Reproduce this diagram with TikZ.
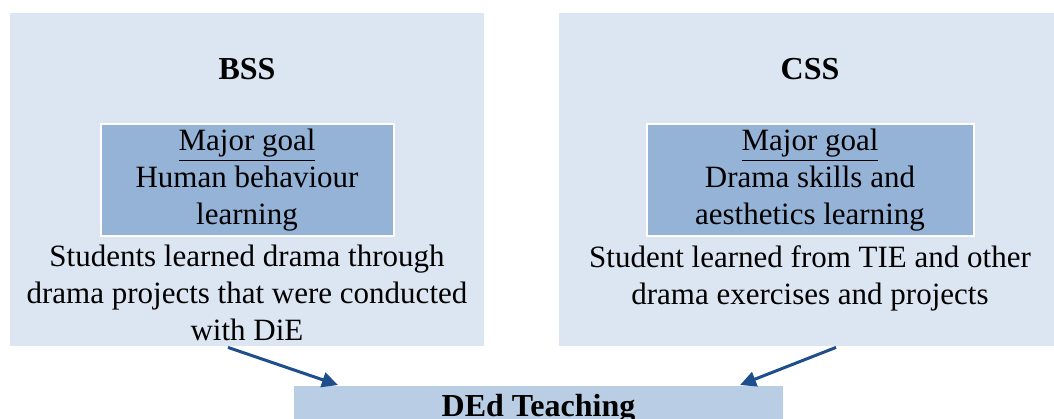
\documentclass[tikz,border=0pt]{standalone}
\usepackage{fontspec}
\setmainfont{Liberation Serif}
\usetikzlibrary{positioning}
\usetikzlibrary{arrows.meta}
\definecolor{outerblue}{RGB}{220,230,242}
\definecolor{goalblue}{RGB}{149,179,215}
\definecolor{dedblue}{RGB}{185,205,229}
\definecolor{arrowblue}{RGB}{31,78,140}

\begin{document}
\begin{tikzpicture}[x=0.5pt,y=-0.5pt]
		\tikzstyle{every node}+=[inner sep=0pt, font=\fontsize{15.5}{18.5}\selectfont]
		\tikzstyle{school}=[fill=outerblue]
		\tikzstyle{goal}=[fill=goalblue, draw=white, line width=1pt, minimum height=56pt, align=center]
		\tikzstyle{desc}=[align=center]
		\tikzstyle{schooltitle}=[font=\fontsize{16}{19}\selectfont\bfseries]
		\tikzstyle{link}=[arrowblue, line width=1.5pt, -{Triangle[length=8pt,width=7.5pt]}]
		\useasboundingbox (0,0) rectangle (1054,418);
		\clip (0,0) rectangle (1054,418);
		\node [school, minimum width=237pt, minimum height=166.5pt] (bss) at (247,179.5) {};
		\node [school, minimum width=247.5pt, minimum height=166.5pt] (css) at (806.5,179.5) {};
		\node [schooltitle, anchor=base] (bsstitle) at (247,79) {BSS};
		\node [schooltitle, anchor=base] (csstitle) at (810,79) {CSS};
		\node [goal, minimum width=146.5pt] (bssgoal) at (247,180) {\underline{Major goal}\\Human behaviour\\learning};
		\node [goal, minimum width=163.5pt] (cssgoal) at (810,180) {\underline{Major goal}\\Drama skills and\\aesthetics learning};
		\node [desc, below=4pt of bssgoal] (bssdesc) {Students learned drama through\\drama projects that were conducted\\with DiE};
		\node [desc, below=4pt of cssgoal] (cssdesc) {Student learned from TIE and other\\drama exercises and projects};
		\node [schooltitle, fill=dedblue, minimum width=244.5pt, text height=15pt, text depth=10pt, anchor=north] (ded) at (538.5,386) {DEd Teaching};
		\draw [link] ([xshift=-9.5pt,yshift=-0.5pt]bss.south) -- ([xshift=-100.25pt,yshift=0.5pt]ded.north);
		\draw [link] ([xshift=14.75pt,yshift=-0.5pt]css.south) -- ([xshift=100.75pt,yshift=0.5pt]ded.north);
		\end{tikzpicture}
\end{document}
